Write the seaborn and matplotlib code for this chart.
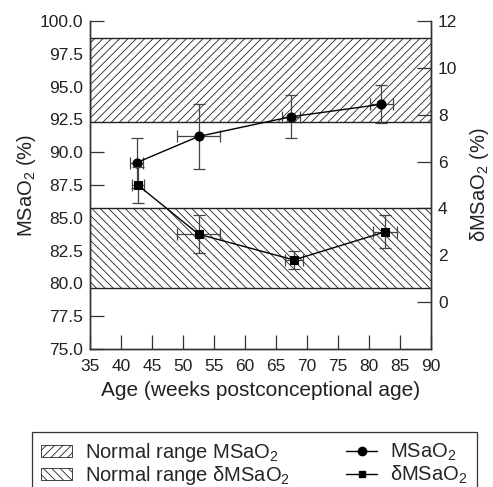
import numpy as np
import seaborn as sns
import matplotlib.pyplot as plt
from matplotlib.patches import Patch
from matplotlib.lines import Line2D

# Data
age_ms = [42.5, 52.5, 67.4, 82.0]
age_ms_err = [1.0, 3.5, 1.5, 1.9]
msao2 = [89.2, 91.2, 92.7, 93.65]
msao2_err = [1.9, 2.5, 1.65, 1.45]

age_d = [42.7, 52.5, 67.9, 82.6]
age_d_err = [1.0, 3.5, 1.4, 1.9]
dmsao2 = [5.0, 2.9, 1.8, 3.0]
dmsao2_err = [0.78, 0.8, 0.37, 0.7]

band_ms = [92.3, 98.7]    # normal range MSaO2 (left axis)
band_d = [0.62, 4.0]      # normal range dMSaO2 (right axis)

sns.set_theme(style="ticks")
plt.rcParams["font.family"] = ["Liberation Sans", "DejaVu Sans"]
plt.rcParams["mathtext.fontset"] = "custom"
plt.rcParams["mathtext.rm"] = "Liberation Sans"
plt.rcParams["mathtext.it"] = "Liberation Sans:italic"
plt.rcParams["mathtext.default"] = "regular"
plt.rcParams["hatch.linewidth"] = 0.6
plt.rcParams["hatch.color"] = "#222222"

fig = plt.figure(figsize=(4.93, 4.87), dpi=100)
ax = fig.add_axes([0.1826, 0.2834, 0.6916, 0.6735])
ax2 = ax.twinx()

# hatched normal ranges
ax.fill_between([35, 90], band_ms[0], band_ms[1], facecolor="white",
                edgecolor="#222222", hatch="////", linewidth=1.0, zorder=2.5)
ax2.fill_between([35, 90], band_d[0], band_d[1], facecolor="white",
                 edgecolor="#222222", hatch="\\\\\\\\", linewidth=1.0, zorder=1)

# MSaO2 on the left axis
ax.errorbar(age_ms, msao2, xerr=age_ms_err, yerr=msao2_err, fmt="none",
            ecolor="#444444", elinewidth=0.9, capsize=4, capthick=0.9, zorder=3)
sns.lineplot(x=age_ms, y=msao2, ax=ax, sort=False, color="black", lw=1.0,
             marker="o", markersize=6.5, markeredgecolor="black", zorder=4)

# dMSaO2 on the right axis
ax2.errorbar(age_d, dmsao2, xerr=age_d_err, yerr=dmsao2_err, fmt="none",
             ecolor="#444444", elinewidth=0.9, capsize=4, capthick=0.9, zorder=3)
sns.lineplot(x=age_d, y=dmsao2, ax=ax2, sort=False, color="black", lw=1.0,
             marker="s", markersize=5.5, markeredgecolor="black", zorder=4)

ax.set_xlim(35, 90)
ax.set_ylim(75, 100)
ax2.set_ylim(-2, 12)
ax.set_xticks(np.arange(35, 91, 5))
ax.set_yticks(np.arange(75, 100.1, 2.5))
ax.set_yticklabels([f"{v:.1f}" for v in np.arange(75, 100.1, 2.5)])
ax2.set_yticks(np.arange(0, 13, 2))

for a in (ax, ax2):
    a.spines["top"].set_visible(False)
    for s in a.spines.values():
        s.set_color("#333333")
        s.set_linewidth(1.0)
ax.tick_params(axis="both", direction="in", length=10, width=0.9,
               color="#333333", labelsize=12.5, pad=5, labelcolor="#222222")
ax.tick_params(axis="x", pad=7)
ax2.tick_params(axis="y", direction="in", length=10, width=0.9,
                color="#333333", labelsize=12.5, pad=5, labelcolor="#222222")

ax.set_xlabel("Age (weeks postconceptional age)", fontsize=15, color="#222222", labelpad=5)
ax.set_ylabel("MSaO$_2$ (%)", fontsize=14.5, color="#222222", labelpad=1)
ax2.set_ylabel("δMSaO$_2$ (%)", fontsize=14.5, color="#222222", labelpad=8)

handles = [
    Patch(facecolor="white", edgecolor="#222222", hatch="////", linewidth=0.6),
    Patch(facecolor="white", edgecolor="#222222", hatch="\\\\\\\\", linewidth=0.6),
    Line2D([], [], color="black", lw=1.0, marker="o", markersize=6),
    Line2D([], [], color="black", lw=1.0, marker="s", markersize=5),
]
labels = ["Normal range MSaO$_2$", "Normal range δMSaO$_2$", "MSaO$_2$", "δMSaO$_2$"]
leg = fig.legend(handles, labels, loc="upper left", ncol=2,
                 bbox_to_anchor=(0.065, 0.113, 0.9025, 0.0), mode="expand",
                 borderaxespad=0, fancybox=False, edgecolor="#333333",
                 fontsize=14.5, handlelength=1.55, handleheight=0.6,
                 handletextpad=0.65, labelspacing=0.0, borderpad=0.45,
                 framealpha=1)
leg.get_frame().set_linewidth(0.9)

fig.savefig("out.png", dpi=100)
